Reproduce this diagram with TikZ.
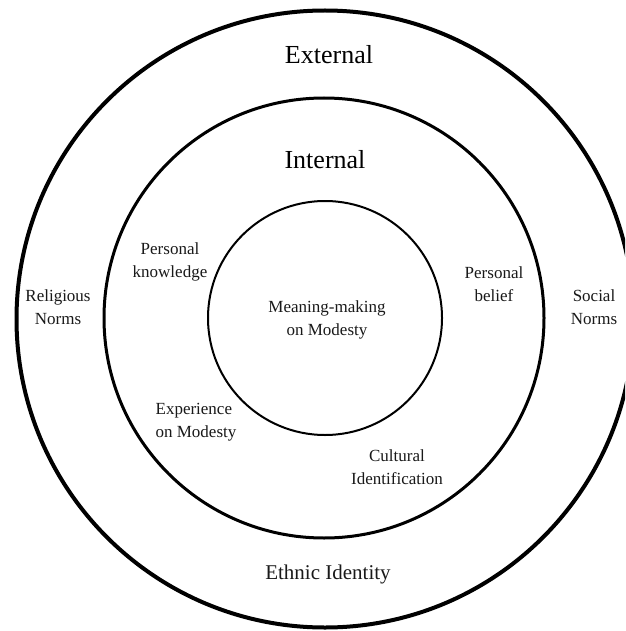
\documentclass[tikz,border=0pt]{standalone}
\usepackage{fontspec}
\setmainfont{Liberation Serif}
\begin{document}
\begin{tikzpicture}[x=1pt,y=-1pt,
  lbl/.style={text=black!90, inner sep=0pt, align=center, font=\fontsize{17}{23}\selectfont},
  big/.style={text=black, inner sep=0pt, font=\fontsize{26}{30}\selectfont},
  mid/.style={text=black!90, inner sep=0pt, font=\fontsize{21}{25}\selectfont},
  ring/.style={draw=black, circle, inner sep=0pt}]
\useasboundingbox (0,0) rectangle (625,631);
\clip (0,0) rectangle (625,631);
\fill[white] (0,0) rectangle (625,631);
\node[ring, line width=4pt, minimum size=617pt] (outer) at (325,319) {};
\node[ring, line width=3pt, minimum size=440pt] (middle) at (324,318) {};
\node[ring, line width=2pt, minimum size=234pt] (inner) at (325,318) {};
\node[big] (ext) at (329,55) {External};
\node[big] (int) at (325,160) {Internal};
\node[mid] (eth) at (328,574) {Ethnic Identity};
\node[lbl] (rel) at (58,307) {Religious\\Norms};
\node[lbl] (soc) at (594,307) {Social\\Norms};
\node[lbl] (pk) at (170,262) {Personal\\knowledge};
\node[lbl] (pb) at (494,284) {Personal\\belief};
\node[lbl] (mm) at (327,320) {Meaning-making\\on Modesty};
\node[lbl, align=left] (exp) at (196,422) {Experience\\on Modesty};
\node[lbl] (ci) at (397,467) {Cultural\\Identification};
\end{tikzpicture}
\end{document}
